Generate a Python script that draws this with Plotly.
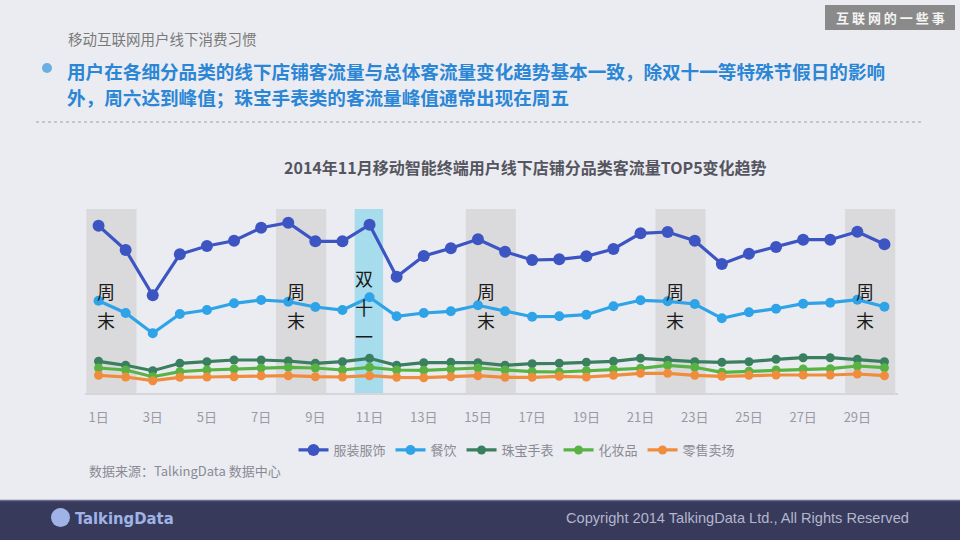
import plotly.graph_objects as go

days = list(range(1, 31))
tick_days = list(range(1, 31, 2))
tick_labels = [f"{d}日" for d in tick_days]

series_names = ["服装服饰", "餐饮", "珠宝手表", "化妆品", "零售卖场"]
clothing = [167.3, 143, 97.7, 138.7, 147, 152.3, 165.3, 170.3, 151.7, 151.7, 168.3, 116.3, 137, 144.7, 153.7,
            141.3, 133, 133.7, 136.7, 144, 159.7, 161, 152.3, 129, 139.3, 146, 153.3, 153.3, 161.3, 148.7]
catering = [92.3, 80, 59.7, 79, 83, 89.7, 93, 91.3, 86, 83, 95.7, 76.7, 80, 81.7, 87.7,
            81.7, 76.3, 76.7, 78.3, 86.7, 92.7, 91.7, 89, 74.7, 80.7, 84.3, 89.3, 90.3, 93.3, 86.3]
jewelry = [31.7, 27.7, 22.3, 29.7, 31.3, 33, 33, 32, 29.7, 31.3, 34.7, 27.7, 30.3, 30.7, 30.3,
           27.7, 29.3, 29.7, 30.7, 31.7, 34.7, 32.7, 31.3, 30.7, 31.3, 33.7, 35.3, 35.3, 33.7, 31.3]
cosmetics = [25, 23, 16.3, 21.3, 23, 24, 25, 25.7, 25, 23, 25.7, 23, 22.7, 23.7, 25,
             23, 21.3, 21, 22.3, 23.7, 24.7, 27.7, 25.7, 20.7, 21.7, 23, 24, 24.3, 27, 25.3]
retail = [17.7, 16, 12.3, 15.7, 16, 16.3, 17.3, 17.3, 16.3, 16, 17.3, 15.7, 15.3, 16.3, 17.3,
          15.7, 15.7, 16.7, 16, 17.7, 19.7, 19.7, 17.7, 16.7, 17.7, 18, 18, 18, 19, 17.3]

weekend_starts = [1, 8, 15, 22, 29]
holiday_day = 11

colors = ["#3c55c2", "#2ea3e8", "#3a7f5f", "#58b344", "#f08d3c"]
all_series = [clothing, catering, jewelry, cosmetics, retail]
marker_sizes = [12, 10, 9, 9, 9]

W, H = 960, 540
L, R, T, B = 85, 62, 209, 147
PW, PH = W - L - R, H - T - B


def px(xp):
    return (xp - L) / PW


def py(yp):
    return (H - B - yp) / PH


FONT = "Noto Sans CJK SC, Noto Sans, sans-serif"

fig = go.Figure()
for name, vals, c, ms in zip(series_names, all_series, colors, marker_sizes):
    fig.add_trace(go.Scatter(
        x=days, y=vals, name=name, mode="lines+markers",
        line=dict(color=c, width=3.2),
        marker=dict(color=c, size=ms),
    ))

shapes = []
for s in weekend_starts:
    shapes.append(dict(type="rect", xref="x", yref="paper", x0=s - 0.45, x1=s + 1.4, y0=0, y1=1,
                       fillcolor="#dadadc", line=dict(width=0), layer="below"))
shapes.append(dict(type="rect", xref="x", yref="paper", x0=holiday_day - 0.55, x1=holiday_day + 0.5,
                   y0=0, y1=1, fillcolor="#a6dcec", line=dict(width=0), layer="below"))
# dotted separator
shapes.append(dict(type="line", xref="paper", yref="paper", x0=px(36), x1=px(921), y0=py(122), y1=py(122),
                   line=dict(color="#a0a0a8", width=1, dash="dot")))
# bullet
shapes.append(dict(type="circle", xref="paper", yref="paper", x0=px(42), x1=px(52), y0=py(73), y1=py(63),
                   fillcolor="#6aaee2", line=dict(width=0)))
# badge
shapes.append(dict(type="rect", xref="paper", yref="paper", x0=px(825), x1=px(955), y0=py(30), y1=py(5),
                   fillcolor="#8a8a8a", line=dict(width=0)))
# footer
shapes.append(dict(type="rect", xref="paper", yref="paper", x0=px(-5), x1=px(965), y0=py(545), y1=py(500),
                   fillcolor="#383a5c", line=dict(width=0)))
shapes.append(dict(type="line", xref="paper", yref="paper", x0=px(0), x1=px(960), y0=py(500.5), y1=py(500.5),
                   line=dict(color="#6a6c90", width=1.5)))
# logo icon
shapes.append(dict(type="circle", xref="paper", yref="paper", x0=px(51), x1=px(70), y0=py(527), y1=py(508),
                   fillcolor="#9fb3e6", line=dict(width=0)))

annotations = []
for s in weekend_starts:
    for ch, yy in (("周", 291), ("末", 320)):
        annotations.append(dict(text=ch, x=s + 0.28, xref="x", y=py(yy), yref="paper", showarrow=False,
                                xanchor="center", yanchor="middle",
                                font=dict(size=18, color="#1a1a1a", family=FONT)))
for ch, yy in (("双", 278), ("十", 307), ("一", 336)):
    annotations.append(dict(text=ch, x=holiday_day - 0.2, xref="x", y=py(yy), yref="paper", showarrow=False,
                            xanchor="center", yanchor="middle",
                            font=dict(size=18, color="#1a1a1a", family=FONT)))


def note(text, xp, yp, size, color, xanchor="left", family=FONT):
    return dict(text=text, x=px(xp), y=py(yp), xref="paper", yref="paper", xanchor=xanchor,
                yanchor="middle", showarrow=False, font=dict(size=size, color=color, family=family))


annotations += [
    note("移动互联网用户线下消费习惯", 66, 38, 14.5, "#7a7a7a"),
    note("<b>用户在各细分品类的线下店铺客流量与总体客流量变化趋势基本一致，除双十一等特殊节假日的影响</b>",
         65, 70, 18.6, "#2b86d6"),
    note("<b>外，周六达到峰值；珠宝手表类的客流量峰值通常出现在周五</b>", 65, 96, 18.6, "#2b86d6"),
    note("<b>2014年11月移动智能终端用户线下店铺分品类客流量TOP5变化趋势</b>", 525, 167, 16, "#555560",
         xanchor="center"),
    note("<b>互 联 网 的 一 些 事</b>", 890, 17.5, 13, "#f4f4f4", xanchor="center"),
    note("数据来源：TalkingData 数据中心", 87, 470, 13, "#8a8a94"),
    note("<b>TalkingData</b>", 73, 518, 16.5, "#9fb3e6",
         family="DejaVu Sans Condensed, Liberation Sans Narrow, sans-serif"),
    note("Copyright 2014 TalkingData Ltd., All Rights Reserved", 911, 518, 14.6, "#b4b6cc", xanchor="right",
         family="Liberation Sans, Arial, sans-serif"),
]

fig.update_layout(
    width=W, height=H,
    margin=dict(l=L, r=R, t=T, b=B),
    paper_bgcolor="#ebecf1", plot_bgcolor="#ebecf1",
    showlegend=True,
    legend=dict(orientation="h", x=px(517), xanchor="center", y=py(450), yanchor="middle",
                font=dict(size=13, color="#8a8a94", family=FONT), itemwidth=30,
                bgcolor="rgba(0,0,0,0)", tracegroupgap=0),
    xaxis=dict(range=[0.5, 30.5], tickvals=tick_days, ticktext=tick_labels, showgrid=False,
               zeroline=False, showline=True, linecolor="#d6d6da", linewidth=1.5,
               tickfont=dict(size=13, color="#9a9aa4", family=FONT), ticklabelstandoff=12,
               fixedrange=True),
    yaxis=dict(range=[0, 184], visible=False, fixedrange=True),
    shapes=shapes,
    annotations=annotations,
)

fig.write_html("out.html", config={"displayModeBar": False},
               post_script="document.body.style.margin='0';document.body.style.background='#ebecf1';")
